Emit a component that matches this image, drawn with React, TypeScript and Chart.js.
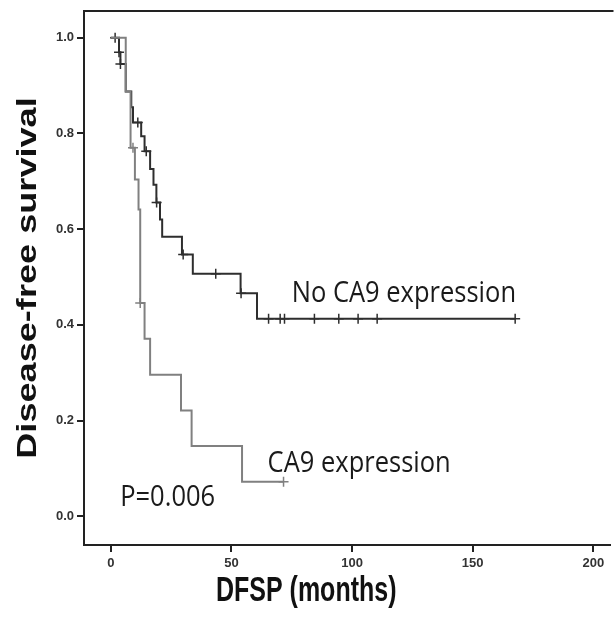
import React, { useEffect, useRef } from "react";
import { Chart, registerables } from "chart.js";

Chart.register(...registerables);

// ---- Data ----
const noCa9StepTimes = [0, 3.4, 4.0, 6.2, 8.5, 9.2, 12.6, 14.0, 16.3, 17.7, 18.9, 20.4, 21.3, 29.5, 34.0, 53.8, 60.6, 167.6];
const noCa9StepSurv = [1.0, 0.97, 0.945, 0.888, 0.855, 0.823, 0.794, 0.763, 0.726, 0.693, 0.656, 0.62, 0.584, 0.547, 0.507, 0.466, 0.413, 0.413];
const noCa9CensorTimes = [1.8, 3.4, 4.0, 11.2, 14.7, 19.0, 30.0, 43.5, 54.0, 65.4, 70.2, 72.0, 84.4, 94.5, 102.5, 110.4, 167.6];

const ca9StepTimes = [0, 6.2, 8.2, 10.0, 11.5, 12.2, 14.0, 16.3, 29.1, 33.5, 54.4, 71.6];
const ca9StepSurv = [1.0, 0.888, 0.77, 0.704, 0.641, 0.446, 0.371, 0.296, 0.221, 0.147, 0.072, 0.072];
const ca9CensorTimes = [9.2, 12.2, 71.6];

const xTickValues = [0, 50, 100, 150, 200];
const yTickValues = [0.0, 0.2, 0.4, 0.6, 0.8, 1.0];

const xAxisTitle = "DFSP (months)";
const yAxisTitle = "Disease-free survival";
const labelNoCa9 = "No CA9 expression";
const labelCa9 = "CA9 expression";
const labelP = "P=0.006";

function survAt(times: number[], surv: number[], t: number): number {
  let v = surv[0];
  for (let i = 0; i < times.length; i++) {
    if (times[i] <= t) v = surv[i];
  }
  return v;
}

function drawText(
  ctx: CanvasRenderingContext2D,
  text: string,
  x: number,
  y: number,
  font: string,
  color: string,
  align: CanvasTextAlign,
  sx: number,
  sy: number,
  rotate = 0
) {
  ctx.save();
  ctx.translate(x, y);
  if (rotate) ctx.rotate(rotate);
  ctx.scale(sx, sy);
  ctx.font = font;
  ctx.fillStyle = color;
  ctx.textAlign = align;
  ctx.textBaseline = "middle";
  ctx.fillText(text, 0, 0);
  ctx.restore();
}

const textPlugin = {
  id: "kmText",
  afterDraw(chart: any) {
    const { ctx, chartArea, scales } = chart;
    const xs = scales.x;
    const ys = scales.y;
    // top frame line
    ctx.save();
    ctx.strokeStyle = "#222";
    ctx.lineWidth = 2;
    ctx.beginPath();
    ctx.moveTo(chartArea.left - 1, chartArea.top);
    ctx.lineTo(chartArea.right + 4, chartArea.top);
    ctx.stroke();
    ctx.restore();

    const annFont = '25.5px "Open Sans"';
    drawText(ctx, labelNoCa9, xs.getPixelForValue(75), ys.getPixelForValue(0.466), annFont, "#1a1a1a", "left", 1, 1.15);
    drawText(ctx, labelCa9, xs.getPixelForValue(65), ys.getPixelForValue(0.11), annFont, "#1a1a1a", "left", 1, 1.15);
    drawText(ctx, labelP, xs.getPixelForValue(3.9), ys.getPixelForValue(0.04), annFont, "#1a1a1a", "left", 1, 1.15);

    // axis titles
    drawText(ctx, xAxisTitle, xs.getPixelForValue(81), 591, 'bold 25px "Liberation Sans"', "#111", "center", 1, 1.4);
    drawText(
      ctx,
      yAxisTitle,
      28,
      (chartArea.top + chartArea.bottom) / 2,
      'bold 28px "Liberation Sans"',
      "#111",
      "center",
      1.29,
      1,
      -Math.PI / 2
    );
  },
};

export default function App() {
  const canvasRef = useRef<HTMLCanvasElement | null>(null);

  useEffect(() => {
    const canvas = canvasRef.current;
    if (!canvas) return;

    const noCa9Line = noCa9StepTimes.map((t, i) => ({ x: t, y: noCa9StepSurv[i] }));
    const ca9Line = ca9StepTimes.map((t, i) => ({ x: t, y: ca9StepSurv[i] }));
    const noCa9Cens = noCa9CensorTimes.map((t) => ({ x: t, y: survAt(noCa9StepTimes, noCa9StepSurv, t) }));
    const ca9Cens = ca9CensorTimes.map((t) => ({ x: t, y: survAt(ca9StepTimes, ca9StepSurv, t) }));

    const axisColor = "#222";
    const tickFont = { family: '"Liberation Sans"', size: 13, weight: "bold" as const };

    const chart = new Chart(canvas, {
      type: "scatter",
      data: {
        datasets: [
          {
            data: ca9Line,
            showLine: true,
            stepped: "before",
            borderColor: "#808080",
            borderWidth: 2,
            pointRadius: 0,
          },
          {
            data: ca9Cens,
            showLine: false,
            pointStyle: "cross",
            pointRadius: 5,
            pointBorderWidth: 1.5,
            pointBorderColor: "#808080",
            borderColor: "#808080",
          },
          {
            data: noCa9Line,
            showLine: true,
            stepped: "before",
            borderColor: "#2e2e2e",
            borderWidth: 2,
            pointRadius: 0,
          },
          {
            data: noCa9Cens,
            showLine: false,
            pointStyle: "cross",
            pointRadius: 5,
            pointBorderWidth: 1.5,
            pointBorderColor: "#2e2e2e",
            borderColor: "#2e2e2e",
          },
        ],
      } as any,
      options: {
        animation: false,
        responsive: false,
        devicePixelRatio: 1,
        layout: { padding: { top: 11, left: 0, right: 0, bottom: 0 } },
        plugins: { legend: { display: false }, tooltip: { enabled: false } },
        scales: {
          x: {
            type: "linear",
            min: -11.1,
            max: 206.7,
            afterBuildTicks: (s: any) => {
              s.ticks = xTickValues.map((v) => ({ value: v }));
            },
            afterFit: (s: any) => {
              s.height = 75;
            },
            ticks: {
              font: tickFont,
              color: "#333",
              padding: 4,
              maxRotation: 0,
              callback: (v: any) => String(v),
            },
            grid: {
              drawOnChartArea: false,
              drawTicks: true,
              tickLength: 7,
              color: axisColor,
              lineWidth: 2,
            },
            border: { display: true, color: axisColor, width: 2 },
          },
          y: {
            type: "linear",
            min: -0.06,
            max: 1.056,
            afterBuildTicks: (s: any) => {
              s.ticks = yTickValues.map((v) => ({ value: v }));
            },
            afterFit: (s: any) => {
              s.width = 84;
            },
            ticks: {
              font: tickFont,
              color: "#333",
              padding: 3,
              callback: (v: any) => Number(v).toFixed(1),
            },
            grid: {
              drawOnChartArea: false,
              drawTicks: true,
              tickLength: 7,
              color: axisColor,
              lineWidth: 2,
            },
            border: { display: true, color: axisColor, width: 2 },
          },
        },
      } as any,
      plugins: [textPlugin],
    });

    return () => {
      chart.destroy();
    };
  }, []);

  return (
    <div style={{ position: "fixed", left: 0, top: 0, width: 616, height: 620, background: "#fff" }}>
      <canvas ref={canvasRef} width={616} height={620} style={{ display: "block" }} />
    </div>
  );
}
